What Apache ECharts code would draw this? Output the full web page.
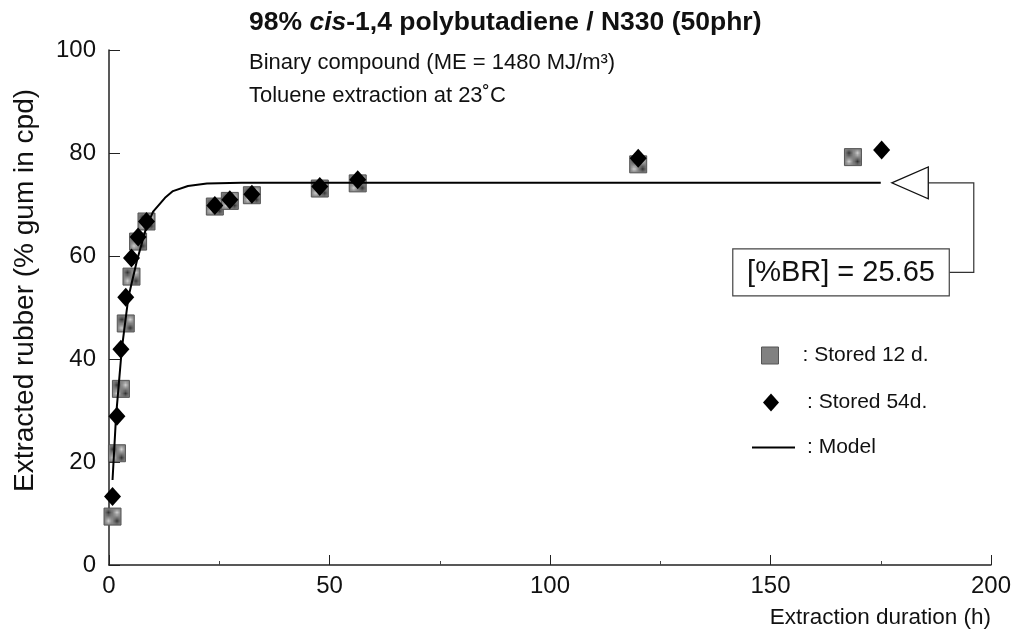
<!DOCTYPE html>
<html>
<head>
<meta charset="utf-8">
<script src="https://cdn.jsdelivr.net/npm/echarts@6/dist/echarts.min.js"></script>
<style>
html,body{margin:0;padding:0;background:#fff;}
#chart{width:1015px;height:639px;}
</style>
</head>
<body>
<div id="chart"></div>
<script>
// ---- data ----
const stored12_x = [0.8, 1.8, 2.7, 3.8, 5.1, 6.6, 8.5, 24.0, 27.4, 32.4, 47.8, 56.4, 120.0, 168.7];
const stored12_y = [9.4, 21.7, 34.2, 46.9, 56.0, 62.8, 66.7, 69.6, 70.7, 71.8, 73.1, 74.1, 77.8, 79.2];
const stored54_x = [0.8, 1.8, 2.7, 3.8, 5.1, 6.6, 8.5, 24.0, 27.4, 32.4, 47.8, 56.4, 120.0, 175.2];
const stored54_y = [13.3, 28.9, 41.9, 52.0, 59.6, 63.7, 66.7, 69.8, 70.9, 72.0, 73.5, 74.8, 79.0, 80.6];
const model_x = [0.8, 1.6, 2.9, 4.4, 6.3, 8.5, 10.0, 12.7, 14.5, 17.9, 22.2, 30, 60, 100, 140, 175];
const model_y = [16.5, 28.9, 41.9, 52.0, 59.0, 65.7, 68.6, 71.3, 72.6, 73.6, 74.1, 74.2, 74.2, 74.2, 74.2, 74.2];
const xTicks = [0, 50, 100, 150, 200];
const yTicks = [0, 20, 40, 60, 80, 100];
const seriesNames = [': Stored 12 d.', ': Stored 54d.', ': Model'];
const brLabel = '[%BR] = 25.65';
const titleLines = ['98% {i|cis}-1,4 polybutadiene / N330 (50phr)', 'Binary compound (ME = 1480 MJ/m\u00B3)', 'Toluene extraction at 23\u02DAC'];
const xName = 'Extraction duration (h)';
const yName = 'Extracted rubber (% gum in cpd)';

const FONT = '"Liberation Sans", Arial, sans-serif';

// checkered grey pattern for the squares
const pc = document.createElement('canvas');
pc.width = 2; pc.height = 2;
const pctx = pc.getContext('2d');
pctx.fillStyle = '#d0d0d0'; pctx.fillRect(0,0,2,2);
pctx.fillStyle = '#333333'; pctx.fillRect(0,0,1,1); pctx.fillRect(1,1,1,1);
const pattern = {image: pc, repeat: 'repeat'};

const zip = (xs, ys) => xs.map((x, i) => [x, ys[i]]);

const chart = echarts.init(document.getElementById('chart'), null, {renderer: 'canvas'});

const legendText = {fontFamily: FONT, fontSize: 21, color: '#111'};

const option = {
  backgroundColor: '#fff',
  animation: false,
  title: [
    {text: titleLines[0], left: 244, top: 4,
     textStyle: {fontFamily: FONT, fontSize: 26.5, fontWeight: 'bold', color: '#111',
       rich: {i: {fontFamily: FONT, fontSize: 26.5, fontWeight: 'bold', fontStyle: 'italic', color: '#111'}}}},
    {text: titleLines[1], left: 244, top: 47,
     textStyle: {fontFamily: FONT, fontSize: 22, fontWeight: 'normal', color: '#111'}},
    {text: titleLines[2], left: 244, top: 80,
     textStyle: {fontFamily: FONT, fontSize: 22, fontWeight: 'normal', color: '#111'}}
  ],
  legend: [
    {data: [{name: seriesNames[0], icon: 'rect', itemStyle: {color: pattern, borderColor: '#555', borderWidth: 1}}],
     left: 756, top: 340, itemWidth: 17, itemHeight: 17, selectedMode: false,
     textStyle: Object.assign({padding: [0,0,0,19]}, legendText)},
    {data: [{name: seriesNames[1], icon: 'diamond'}],
     left: 758, top: 387, itemWidth: 16, itemHeight: 18, selectedMode: false,
     textStyle: Object.assign({padding: [0,0,0,23]}, legendText)},
    {data: [{name: seriesNames[2], icon: 'rect'}],
     left: 747, top: 432, itemWidth: 43, itemHeight: 2, selectedMode: false,
     textStyle: Object.assign({padding: [0,0,0,7]}, legendText)}
  ],
  grid: {left: 109, right: 24, top: 50, bottom: 74, containLabel: false},
  xAxis: {
    type: 'value', min: xTicks[0], max: xTicks[xTicks.length-1], interval: 50,
    name: xName, nameLocation: 'end', nameGap: 0,
    nameTextStyle: {fontFamily: FONT, fontSize: 22.5, color: '#111', align: 'right', verticalAlign: 'top', padding: [41,0,0,0]},
    axisLine: {show: true, onZero: false, lineStyle: {color: '#222', width: 1.5}},
    axisTick: {show: true, inside: true, length: 10, lineStyle: {color: '#222', width: 1}},
    minorTick: {show: true, splitNumber: 2, length: 4, lineStyle: {color: '#444', width: 1}},
    axisLabel: {fontFamily: FONT, fontSize: 24, color: '#111', margin: 9},
    splitLine: {show: false}
  },
  yAxis: {
    type: 'value', min: yTicks[0], max: yTicks[yTicks.length-1], interval: 20,
    name: yName, nameLocation: 'middle', nameGap: 70, nameRotate: 90,
    nameTextStyle: {fontFamily: FONT, fontSize: 28, color: '#111', padding: [0,0,0,34]},
    axisLine: {show: true, onZero: false, lineStyle: {color: '#222', width: 1.5}},
    axisTick: {show: true, inside: true, length: 11, lineStyle: {color: '#222', width: 1}},
    axisLabel: {fontFamily: FONT, fontSize: 24, color: '#111', margin: 13},
    splitLine: {show: false}
  },
  series: [
    {name: seriesNames[0], type: 'scatter', symbol: 'rect', symbolSize: 17, z: 2,
     itemStyle: {color: pattern, borderColor: '#555', borderWidth: 1, opacity: 1},
     data: zip(stored12_x, stored12_y)},
    {name: seriesNames[1], type: 'scatter', symbol: 'diamond', symbolSize: [17, 19], z: 3,
     itemStyle: {color: '#000', opacity: 1},
     data: zip(stored54_x, stored54_y)},
    {name: seriesNames[2], type: 'line', symbol: 'none', smooth: false, z: 4,
     lineStyle: {color: '#000', width: 2}, itemStyle: {color: '#000'},
     data: zip(model_x, model_y)}
  ]
};
chart.setOption(option);

// annotation: triangle pointer, connector and boxed label, anchored at the model plateau end
const tip = chart.convertToPixel({gridIndex: 0}, [model_x[model_x.length-1] + 2.5, model_y[model_y.length-1]]);
const tx = tip[0], ty = tip[1];
const baseX = tx + 36.5;
const boxR = tx + 57.5, boxL = boxR - 216.5, boxT = ty + 66, boxH = 47;
chart.setOption({
  graphic: [
    {type: 'polyline', shape: {points: [[baseX, ty], [tx + 82, ty], [tx + 82, boxT + boxH/2], [boxR, boxT + boxH/2]]},
     style: {stroke: '#333', lineWidth: 1.2, fill: null}, z: 10},
    {type: 'polygon', shape: {points: [[tx, ty], [baseX, ty - 16], [baseX, ty + 16]]},
     style: {stroke: '#111', lineWidth: 1.3, fill: '#fff'}, z: 11},
    {type: 'rect', shape: {x: boxL, y: boxT, width: boxR - boxL, height: boxH},
     style: {stroke: '#444', lineWidth: 1.2, fill: '#fff'}, z: 11},
    {type: 'text', x: (boxL + boxR)/2, y: boxT + boxH/2 + 1,
     style: {text: brLabel, fontFamily: FONT, fontSize: 29, fill: '#111', align: 'center', verticalAlign: 'middle'}, z: 12}
  ]
});
</script>
</body>
</html>
